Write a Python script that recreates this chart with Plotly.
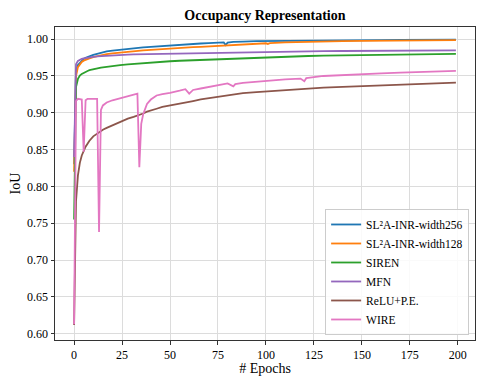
import plotly.graph_objects as go

epochs = [0, 1, 2, 3, 4, 5, 6, 7, 8, 10, 12, 13, 14, 15, 17, 20, 24, 28, 31, 33,
          34, 35, 36, 38, 40, 43, 46, 50, 55, 58, 60, 62, 66, 70, 75, 78, 79, 80, 83, 84,
          88, 95, 100, 101, 102, 110, 118, 120, 121, 122, 130, 140, 150, 160, 170, 180, 190, 199]

sl2a_256 = [0.83, 0.958, 0.965, 0.968, 0.971, 0.973, 0.9745, 0.9757, 0.9768, 0.9786,
            0.980, 0.9808, 0.9815, 0.9822, 0.9833, 0.9845, 0.9858, 0.9868, 0.9875, 0.988,
            0.9883, 0.9885, 0.9887, 0.9893, 0.9897, 0.9903, 0.9909, 0.9916, 0.9925, 0.9929,
            0.9932, 0.9936, 0.9941, 0.9946, 0.9951, 0.9955, 0.992, 0.9952, 0.9962, 0.9964,
            0.9967, 0.9972, 0.9974, 0.9975, 0.9975, 0.9977, 0.9979, 0.998, 0.998, 0.998,
            0.9982, 0.9984, 0.9986, 0.9988, 0.9989, 0.999, 0.9991, 0.9992]

sl2a_128 = [0.82, 0.95, 0.962, 0.966, 0.969, 0.9708, 0.972, 0.973, 0.974, 0.9757,
            0.977, 0.9776, 0.9782, 0.9787, 0.9797, 0.9808, 0.982, 0.9831, 0.9837, 0.9841,
            0.9843, 0.9845, 0.9847, 0.985, 0.9854, 0.9859, 0.9864, 0.9872, 0.988, 0.9885,
            0.9888, 0.9891, 0.9896, 0.9902, 0.9909, 0.9913, 0.9915, 0.9917, 0.9921, 0.9923,
            0.9928, 0.9936, 0.9944, 0.9935, 0.9946, 0.9955, 0.9962, 0.9963, 0.9964, 0.9965,
            0.997, 0.9974, 0.9977, 0.998, 0.9982, 0.9984, 0.9985, 0.9986]

siren = [0.755, 0.935, 0.946, 0.9505, 0.9528, 0.9545, 0.9558, 0.9568, 0.9578, 0.9593,
         0.9605, 0.961, 0.9614, 0.9618, 0.9626, 0.9636, 0.9648, 0.9658, 0.9665, 0.9669,
         0.9671, 0.9673, 0.9675, 0.9679, 0.9683, 0.9688, 0.9694, 0.970, 0.9707, 0.971,
         0.9713, 0.9716, 0.972, 0.9726, 0.9732, 0.9736, 0.9737, 0.9738, 0.9741, 0.9742,
         0.9746, 0.9752, 0.9757, 0.9757, 0.9758, 0.9764, 0.9769, 0.977, 0.9771, 0.9771,
         0.9776, 0.978, 0.9784, 0.9788, 0.9791, 0.9794, 0.9797, 0.980]

mfn = [0.84, 0.966, 0.9705, 0.9722, 0.9733, 0.974, 0.9746, 0.975, 0.9754, 0.976,
       0.9765, 0.9767, 0.9769, 0.9771, 0.9775, 0.978, 0.9785, 0.9789, 0.9792, 0.9793,
       0.9794, 0.9795, 0.9796, 0.9798, 0.980, 0.9802, 0.9804, 0.9807, 0.981, 0.9812,
       0.9813, 0.9814, 0.9816, 0.9818, 0.982, 0.9821, 0.9821, 0.9822, 0.9823, 0.9823,
       0.9825, 0.9827, 0.9829, 0.9829, 0.983, 0.9832, 0.9834, 0.9834, 0.9835, 0.9835,
       0.9837, 0.9839, 0.9841, 0.9843, 0.9844, 0.9846, 0.9847, 0.9848]

relu_pe = [0.612, 0.78, 0.815, 0.832, 0.842, 0.849, 0.854, 0.858, 0.862, 0.868,
           0.872, 0.874, 0.8755, 0.877, 0.8795, 0.883, 0.888, 0.892, 0.8945, 0.896,
           0.897, 0.898, 0.899, 0.9015, 0.9035, 0.9055, 0.908, 0.9098, 0.912, 0.9137,
           0.9148, 0.916, 0.9182, 0.9198, 0.922, 0.9232, 0.9234, 0.9238, 0.925, 0.9253,
           0.9268, 0.928, 0.929, 0.9291, 0.9293, 0.9312, 0.9324, 0.9327, 0.9328, 0.9329,
           0.9342, 0.9352, 0.9363, 0.9372, 0.9382, 0.9393, 0.9402, 0.941]

wire = [0.613, 0.916, 0.919, 0.918, 0.918, 0.847, 0.917, 0.919, 0.919, 0.920,
        0.919, 0.738, 0.904, 0.910, 0.914, 0.917, 0.920, 0.923, 0.925, 0.926,
        0.826, 0.885, 0.898, 0.912, 0.918, 0.9235, 0.9255, 0.927, 0.930, 0.932,
        0.926, 0.931, 0.933, 0.935, 0.9372, 0.939, 0.9395, 0.940, 0.936, 0.939,
        0.9405, 0.942, 0.9435, 0.944, 0.944, 0.9455, 0.9465, 0.943, 0.947, 0.9475,
        0.950, 0.9515, 0.9527, 0.9535, 0.9545, 0.9555, 0.9562, 0.957]

series = [
    ("SL²A-INR-width256", sl2a_256, "#1f77b4"),
    ("SL²A-INR-width128", sl2a_128, "#ff7f0e"),
    ("SIREN", siren, "#2ca02c"),
    ("MFN", mfn, "#9467bd"),
    ("ReLU+P.E.", relu_pe, "#8c564b"),
    ("WIRE", wire, "#e377c2"),
]

x_ticks = [0, 25, 50, 75, 100, 125, 150, 175, 200]
y_ticks = [0.60, 0.65, 0.70, 0.75, 0.80, 0.85, 0.90, 0.95, 1.00]

FONT = "Liberation Serif, Times New Roman, serif"

fig = go.Figure()
for name, vals, color in series:
    fig.add_trace(go.Scatter(x=epochs, y=vals, mode="lines", name=name,
                             line=dict(color=color, width=1.8)))

# page body has an 8px margin, so the figure is sized to sit inside the window
fig.update_layout(
    width=468,
    height=368,
    paper_bgcolor="white",
    plot_bgcolor="white",
    font=dict(family=FONT, size=12, color="black"),
    margin=dict(l=46.5, r=1, t=18.7, b=36),
    title=dict(text="<b>Occupancy Representation</b>", x=0.549, xanchor="center",
               y=0.981, yanchor="middle", font=dict(size=14, family=FONT)),
    legend=dict(x=0.986, y=0.016, xanchor="right", yanchor="bottom",
                bgcolor="rgba(255,255,255,0.85)", bordercolor="#cccccc", borderwidth=1,
                font=dict(size=11.5, family=FONT), tracegroupgap=0, itemwidth=30),
)

axis_common = dict(showgrid=True, gridcolor="#dcdcdc", gridwidth=1, showline=True,
                   linecolor="#333333", linewidth=1, mirror=True, ticks="outside",
                   ticklen=3.5, tickcolor="#333333", zeroline=False,
                   tickfont=dict(size=12, family=FONT))

fig.update_xaxes(range=[-9.95, 208.95], tickvals=x_ticks,
                 title=dict(text="# Epochs", font=dict(size=14, family=FONT), standoff=4),
                 **axis_common)
fig.update_yaxes(range=[0.5915, 1.0165], tickvals=y_ticks, tickformat=".2f",
                 title=dict(text="IoU", font=dict(size=14, family=FONT), standoff=3),
                 **axis_common)

fig.write_html("out.html")
